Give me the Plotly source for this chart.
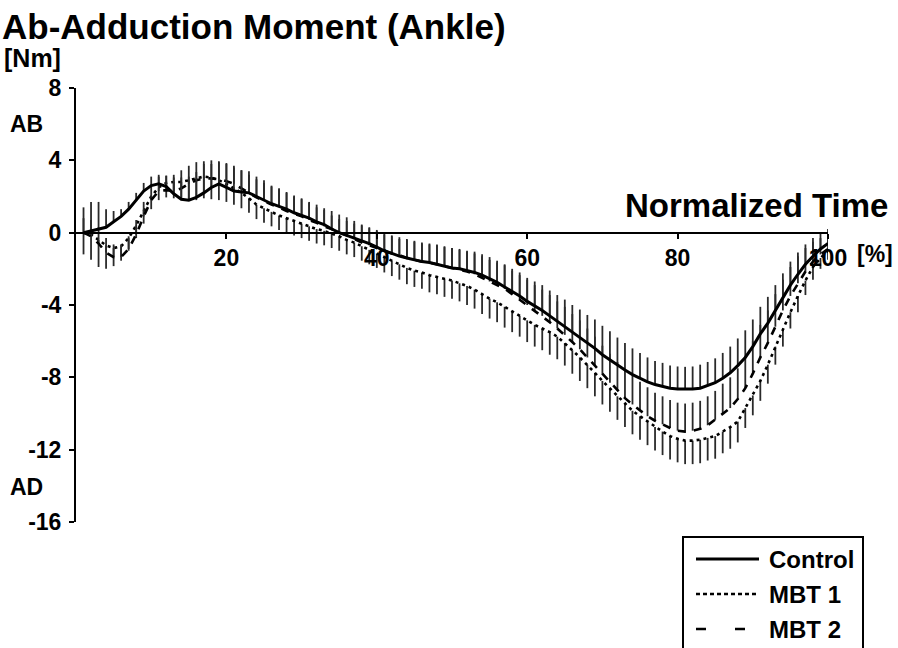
import plotly.graph_objects as go

# Normalized gait cycle (%) and mean ankle ab-/adduction moments [Nm]
pct = list(range(1, 101))

control = [
    0.0, 0.1, 0.2, 0.3, 0.6, 0.9, 1.3, 1.8, 2.3, 2.6,
    2.7, 2.55, 2.15, 1.85, 1.8, 1.95, 2.2, 2.5, 2.7, 2.5,
    2.3, 2.25, 2.2, 2.0, 1.8, 1.6, 1.45, 1.3, 1.1, 0.95,
    0.8, 0.6, 0.45, 0.2, 0.0, -0.15, -0.3, -0.45, -0.6, -0.8,
    -1.0, -1.15, -1.3, -1.4, -1.5, -1.6, -1.65, -1.75, -1.85, -1.95,
    -2.0, -2.1, -2.2, -2.35, -2.55, -2.75, -3.0, -3.25, -3.5, -3.8,
    -4.05, -4.3, -4.6, -4.9, -5.2, -5.5, -5.8, -6.1, -6.4, -6.75,
    -7.05, -7.35, -7.6, -7.85, -8.05, -8.25, -8.4, -8.5, -8.6, -8.65,
    -8.67, -8.65, -8.6, -8.45, -8.3, -8.05, -7.75, -7.35, -6.9, -6.3,
    -5.6, -5.0, -4.3, -3.6, -2.9, -2.3, -1.75, -1.3, -0.9, -0.6,
]
control_sd = [
    1.4, 1.6, 1.5, 1.0, 0.6, 0.4, 0.4, 0.4, 0.45, 0.5,
    0.5, 0.6, 0.9, 1.2, 1.3, 1.4, 1.6, 1.3, 1.2, 1.3,
    1.3, 1.2, 1.2, 1.1, 1.1, 1.0, 1.0, 0.95, 0.9, 0.9,
    0.85, 0.8, 0.8, 0.75, 0.75, 0.8, 0.8, 0.85, 0.85, 0.9,
    0.9, 0.95, 0.95, 1.0, 1.0, 1.0, 1.0, 1.05, 1.05, 1.1,
    1.1, 1.1, 1.15, 1.15, 1.2, 1.2, 1.25, 1.25, 1.3, 1.3,
    1.35, 1.4, 1.4, 1.45, 1.5, 1.5, 1.55, 1.55, 1.6, 1.6,
    1.6, 1.55, 1.5, 1.45, 1.4, 1.35, 1.3, 1.3, 1.25, 1.25,
    1.25, 1.25, 1.3, 1.3, 1.35, 1.4, 1.45, 1.5, 1.5, 1.5,
    1.5, 1.45, 1.4, 1.35, 1.3, 1.2, 1.1, 1.0, 0.9, 0.8,
]

mbt1 = [
    0.0, -0.1, -0.4, -0.7, -0.85, -0.75, -0.3, 0.4, 1.2, 2.0,
    2.5, 2.75, 2.8, 2.8, 2.9, 3.0, 3.1, 3.05, 2.9, 2.7,
    2.45, 2.2, 1.9, 1.55, 1.35, 1.15, 0.95, 0.8, 0.65, 0.5,
    0.35, 0.2, 0.1, -0.05, -0.2, -0.4, -0.55, -0.75, -0.95, -1.15,
    -1.35, -1.55, -1.75, -1.95, -2.1, -2.2, -2.35, -2.45, -2.55, -2.65,
    -2.8, -2.95, -3.15, -3.4, -3.65, -3.85, -4.1, -4.35, -4.6, -4.85,
    -5.1, -5.3, -5.5, -5.75, -6.1, -6.5, -6.9, -7.3, -7.75, -8.2,
    -8.6, -9.05, -9.45, -9.85, -10.15, -10.45, -10.75, -11.0, -11.25, -11.4,
    -11.5, -11.5, -11.45, -11.35, -11.25, -11.0, -10.75, -10.45, -9.7, -9.0,
    -8.2, -7.3, -6.3, -5.3, -4.4, -3.5, -2.65, -1.9, -1.4, -1.0,
]
mbt1_sd = [
    1.2, 1.4, 1.5, 1.3, 1.0, 0.8, 0.7, 0.7, 0.7, 0.7,
    0.7, 0.8, 0.9, 1.0, 1.1, 1.2, 1.2, 1.2, 1.1, 1.0,
    0.9, 0.85, 0.8, 0.8, 0.8, 0.8, 0.8, 0.8, 0.8, 0.8,
    0.8, 0.8, 0.8, 0.8, 0.8, 0.8, 0.8, 0.8, 0.8, 0.8,
    0.85, 0.85, 0.85, 0.9, 0.9, 0.9, 0.95, 0.95, 1.0, 1.0,
    1.0, 1.05, 1.05, 1.1, 1.1, 1.1, 1.15, 1.15, 1.15, 1.2,
    1.2, 1.2, 1.25, 1.25, 1.25, 1.3, 1.3, 1.3, 1.3, 1.3,
    1.3, 1.3, 1.3, 1.3, 1.3, 1.3, 1.3, 1.3, 1.3, 1.3,
    1.3, 1.3, 1.3, 1.25, 1.25, 1.2, 1.2, 1.15, 1.1, 1.1,
    1.1, 1.05, 1.0, 1.0, 0.9, 0.9, 0.8, 0.7, 0.6, 0.5,
]

mbt2 = [
    0.0, -0.2, -0.6, -1.1, -1.35, -1.35, -0.9, -0.1, 0.9, 1.8,
    2.3, 2.35, 2.3, 2.45, 2.7, 2.9, 3.0, 3.0, 2.95, 2.85,
    2.7, 2.45, 2.2, 1.95, 1.75, 1.55, 1.4, 1.2, 1.05, 0.9,
    0.7, 0.55, 0.35, 0.2, 0.0, -0.15, -0.35, -0.55, -0.7, -0.85,
    -1.0, -1.15, -1.25, -1.4, -1.5, -1.6, -1.65, -1.75, -1.85, -1.95,
    -2.05, -2.15, -2.3, -2.5, -2.7, -2.9, -3.1, -3.4, -3.7, -4.0,
    -4.3, -4.6, -4.95, -5.3, -5.65, -6.05, -6.45, -6.9, -7.35, -7.85,
    -8.3, -8.75, -9.15, -9.5, -9.85, -10.15, -10.4, -10.6, -10.8, -10.95,
    -11.0, -10.95, -10.85, -10.65, -10.35, -10.0, -9.7, -9.2, -8.6, -7.8,
    -6.9, -6.1, -5.2, -4.3, -3.5, -2.8, -2.15, -1.6, -1.2, -0.9,
]
mbt2_sd = [
    0.8, 0.9, 0.9, 0.8, 0.7, 0.7, 0.7, 0.8, 0.8, 0.8,
    0.8, 0.8, 0.9, 1.0, 1.0, 1.0, 0.95, 1.0, 1.0, 1.0,
    1.0, 1.0, 1.0, 1.0, 1.0, 1.0, 1.0, 1.0, 1.0, 1.0,
    1.0, 1.0, 1.0, 1.0, 1.0, 1.0, 1.0, 1.0, 1.0, 1.0,
    1.0, 1.0, 1.0, 1.05, 1.05, 1.05, 1.05, 1.1, 1.1, 1.1,
    1.1, 1.1, 1.15, 1.2, 1.2, 1.25, 1.3, 1.3, 1.35, 1.4,
    1.4, 1.45, 1.5, 1.5, 1.55, 1.55, 1.6, 1.6, 1.6, 1.6,
    1.6, 1.6, 1.6, 1.6, 1.6, 1.6, 1.55, 1.55, 1.55, 1.55,
    1.55, 1.55, 1.55, 1.6, 1.6, 1.65, 1.7, 1.7, 1.75, 1.8,
    1.8, 1.8, 1.8, 1.7, 1.6, 1.5, 1.3, 1.1, 0.9, 0.8,
]

y_ticks = [8, 4, 0, -4, -8, -12, -16]
x_ticks = [20, 40, 60, 80, 100]
x_tick_text = ["20", "40", "60", "80", "100"]

series_names = ["Control", "MBT 1", "MBT 2"]

FONT = "Liberation Sans"
W, H = 898, 648
ML, MR, MT, MB = 76, 70, 88, 126
PW, PH = W - ML - MR, H - MT - MB


def px(x):
    return (x - ML) / PW


def py(y):
    return (H - MB - y) / PH


zeros = [0] * len(pct)
bar_color = "#2a2a2a"

fig = go.Figure()

# MBT 1: dotted mean, SD drawn downward
fig.add_trace(go.Scatter(
    x=pct, y=mbt1, mode="lines", name=series_names[1], showlegend=False,
    line=dict(color="black", width=2.6, dash="3px,4px"),
    error_y=dict(type="data", symmetric=False, array=zeros, arrayminus=mbt1_sd,
                 width=0, thickness=1.8, color=bar_color),
))
# MBT 2: dashed mean, SD drawn upward
fig.add_trace(go.Scatter(
    x=pct, y=mbt2, mode="lines", name=series_names[2], showlegend=False,
    line=dict(color="black", width=2.6, dash="8px,8px"),
    error_y=dict(type="data", symmetric=False, array=mbt2_sd, arrayminus=zeros,
                 width=0, thickness=1.8, color=bar_color),
))
# Control: solid mean, SD drawn upward
fig.add_trace(go.Scatter(
    x=pct, y=control, mode="lines", name=series_names[0], showlegend=False,
    line=dict(color="black", width=3),
    error_y=dict(type="data", symmetric=False, array=control_sd, arrayminus=zeros,
                 width=0, thickness=1.8, color=bar_color),
))

bold = dict(family=FONT, color="black", weight="bold")

fig.update_layout(
    width=W, height=H, autosize=False,
    margin=dict(l=ML, r=MR, t=MT, b=MB, pad=0),
    paper_bgcolor="white", plot_bgcolor="white",
    showlegend=False,
    xaxis=dict(
        range=[0, 100], anchor="free", position=16 / 24,
        showline=True, linecolor="black", linewidth=2,
        ticks="outside", ticklen=5, tickwidth=2, tickcolor="black",
        tickvals=x_ticks, ticktext=x_tick_text,
        tickfont=dict(size=23, **bold),
        showgrid=False, zeroline=False,
    ),
    yaxis=dict(
        range=[-16, 8],
        showline=True, linecolor="black", linewidth=2,
        ticks="outside", ticklen=5, tickwidth=2, tickcolor="black",
        tickvals=y_ticks, ticktext=[str(v) for v in y_ticks],
        tickfont=dict(size=23, **bold),
        ticklabelstandoff=3,
        showgrid=False, zeroline=False,
    ),
)


def label(text, x, y, size, xanchor="left"):
    fig.add_annotation(
        text=text, x=px(x), y=py(y), xref="paper", yref="paper",
        xanchor=xanchor, yanchor="middle", showarrow=False,
        font=dict(size=size, **bold),
    )


label("Ab-Adduction Moment (Ankle)", 0, 26, 35)
label("[Nm]", 2, 58, 25)
label("AB", 8, 124, 23)
label("AD", 8, 487, 23)
label("Normalized Time", 890, 205, 33, xanchor="right")
label("[%]", 855, 254, 23)

# Legend box with line samples
fig.add_shape(type="rect", xref="paper", yref="paper",
              x0=px(683), x1=px(863), y0=py(537), y1=py(700),
              line=dict(color="black", width=2), fillcolor="white", layer="above")
legend_rows = [
    (series_names[0], 559, None, 3),
    (series_names[1], 594, "4px,3px", 2.6),
    (series_names[2], 629, "10px,29px", 2.6),
]
for name, yy, dash, lw in legend_rows:
    ln = dict(color="black", width=lw)
    if dash:
        ln["dash"] = dash
    fig.add_shape(type="line", xref="paper", yref="paper",
                  x0=px(696), x1=px(759), y0=py(yy), y1=py(yy), line=ln, layer="above")
    label(name, 767, yy, 24)

fig.write_html("out.html")
